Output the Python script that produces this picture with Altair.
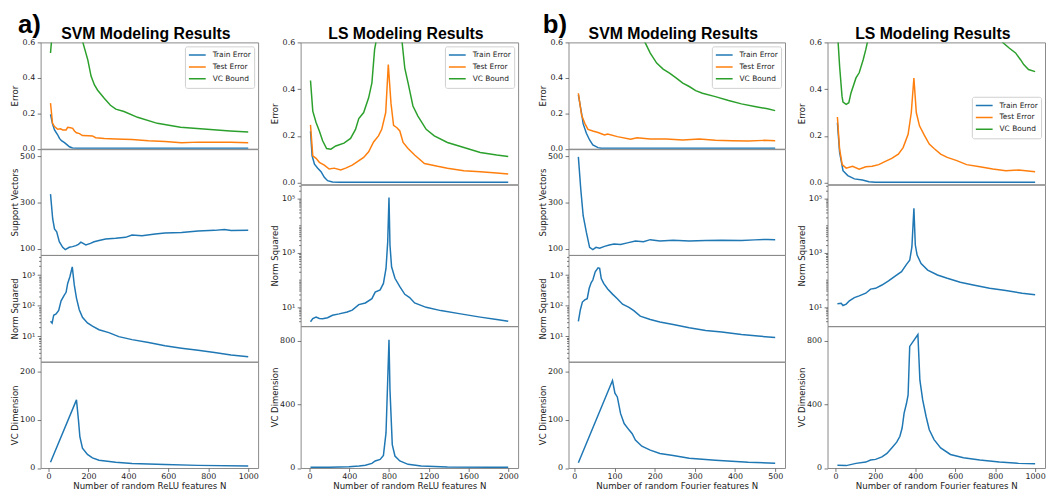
import altair as alt
import pandas as pd

# ---------------- data ----------------
# (a) SVM, random ReLU features
svm_relu_train_N = [10, 20, 30, 45, 55, 65, 80, 95, 105, 120, 150, 200, 400, 600, 800, 1000]
svm_relu_train = [0.194, 0.14, 0.106, 0.08, 0.058, 0.045, 0.034, 0.02, 0.011, 0.004, 0.002, 0.002, 0.002, 0.002, 0.002, 0.002]
svm_relu_test_N = [10, 20, 30, 46, 60, 71, 88, 96, 110, 121, 130, 140, 155, 170, 200, 220, 236, 280, 336, 418, 500, 583, 666, 749, 830, 914, 1000]
svm_relu_test = [0.257, 0.145, 0.125, 0.11, 0.112, 0.106, 0.106, 0.121, 0.118, 0.115, 0.1, 0.09, 0.085, 0.074, 0.073, 0.072, 0.062, 0.058, 0.055, 0.052, 0.045, 0.04, 0.034, 0.037, 0.036, 0.036, 0.034]
svm_relu_vc_N = [10, 16, 30, 60, 100, 140, 172, 197, 213, 230, 246, 279, 310, 337, 378, 446, 545, 661, 777, 909, 1000]
svm_relu_vc = [0.54, 0.62, 0.9, 1.4, 1.6, 0.95, 0.6, 0.5, 0.41, 0.36, 0.33, 0.285, 0.245, 0.223, 0.21, 0.177, 0.143, 0.121, 0.111, 0.1, 0.094]
svm_relu_sv_N = [10, 21, 30, 41, 54, 71, 84, 104, 120, 137, 150, 162, 187, 210, 228, 253, 286, 336, 386, 418, 468, 534, 583, 666, 749, 831, 881, 914, 1000]
svm_relu_sv = [336, 229, 186, 174, 131, 107, 97, 107, 110, 114, 120, 129, 117, 124, 131, 136, 143, 146, 150, 160, 157, 164, 169, 171, 177, 180, 184, 179, 181]
svm_relu_norm_N = [10, 18, 26, 38, 51, 63, 79, 88, 96, 107, 119, 129, 140, 154, 170, 195, 220, 253, 302, 352, 418, 501, 583, 666, 749, 831, 914, 1000]
svm_relu_norm = [30.9, 26.9, 49, 53.7, 70.8, 144.5, 224, 275, 537, 891, 1862, 479, 178, 74, 41.7, 27.5, 21.4, 16.4, 13.2, 9.8, 7.8, 6.3, 4.9, 4.1, 3.5, 2.95, 2.45, 2.14]
svm_relu_vcd_N = [10, 140, 150, 157, 170, 195, 220, 253, 336, 418, 583, 749, 1000]
svm_relu_vcd = [12, 141, 99, 65, 41, 28, 21, 16, 12, 9.5, 7, 5.4, 4]

# (a) LS, random ReLU features
ls_relu_train_N = [10, 26, 50, 83, 116, 149, 182, 231, 300, 600, 1000, 1500, 2000]
ls_relu_train = [0.22, 0.115, 0.079, 0.062, 0.047, 0.023, 0.0085, 0.003, 0.002, 0.002, 0.002, 0.002, 0.002]
ls_relu_test_N = [10, 33, 66, 99, 149, 198, 248, 314, 364, 430, 479, 545, 595, 645, 694, 727, 767, 793, 820, 846, 880, 909, 942, 992, 1058, 1157, 1289, 1388, 1554, 1719, 1884, 2000]
ls_relu_test = [0.247, 0.115, 0.104, 0.087, 0.075, 0.058, 0.062, 0.054, 0.062, 0.075, 0.089, 0.108, 0.132, 0.174, 0.2, 0.228, 0.3, 0.505, 0.34, 0.245, 0.235, 0.221, 0.172, 0.146, 0.118, 0.082, 0.07, 0.062, 0.051, 0.047, 0.041, 0.037]
ls_relu_vc_N = [10, 33, 66, 99, 132, 172, 215, 264, 347, 413, 463, 496, 545, 595, 628, 655, 668, 700, 800, 900, 932, 959, 992, 1041, 1091, 1174, 1256, 1388, 1554, 1719, 1884, 2000]
ls_relu_vc = [0.437, 0.306, 0.257, 0.221, 0.179, 0.146, 0.143, 0.157, 0.169, 0.189, 0.228, 0.274, 0.3, 0.363, 0.427, 0.569, 0.6, 0.9, 2.0, 0.9, 0.6, 0.49, 0.427, 0.328, 0.285, 0.228, 0.2, 0.172, 0.15, 0.129, 0.118, 0.112]
ls_relu_norm_N = [10, 33, 66, 99, 132, 182, 231, 298, 380, 430, 496, 562, 628, 661, 711, 744, 770, 787, 800, 810, 826, 860, 909, 959, 1008, 1058, 1174, 1322, 1521, 1719, 1884, 2000]
ls_relu_norm = [2.95, 3.89, 4.37, 3.89, 3.8, 4.17, 5.13, 5.75, 6.76, 7.94, 12.6, 14.5, 20.9, 36.3, 43.7, 75.9, 269, 2512, 109648, 1905, 309, 117, 57.5, 30.2, 22.9, 14.5, 10, 7.59, 5.75, 4.37, 3.55, 3.09]
ls_relu_vcd_N = [10, 200, 397, 500, 562, 628, 661, 711, 744, 770, 787, 800, 810, 833, 860, 909, 992, 1124, 1388, 2000]
ls_relu_vcd = [4, 5, 8, 12, 17, 29, 44, 54, 79, 220, 551, 804, 489, 147, 75, 44, 23, 12, 6, 4]

# (b) SVM, random Fourier features
svm_four_train_N = [10, 18, 22, 30, 38, 46, 59, 67, 100, 200, 300, 400, 500]
svm_four_train = [0.304, 0.2, 0.14, 0.087, 0.049, 0.021, 0.006, 0.002, 0.002, 0.002, 0.002, 0.002, 0.002]
svm_four_test_N = [10, 18, 26, 34, 46, 59, 75, 83, 107, 140, 156, 189, 229, 270, 311, 351, 392, 433, 473, 500]
svm_four_test = [0.313, 0.19, 0.143, 0.109, 0.1, 0.091, 0.077, 0.083, 0.068, 0.053, 0.062, 0.055, 0.055, 0.049, 0.055, 0.047, 0.045, 0.043, 0.047, 0.045]
svm_four_vc_N = [10, 40, 80, 120, 160, 176, 189, 205, 221, 237, 254, 270, 286, 302, 319, 351, 384, 416, 449, 481, 500]
svm_four_vc = [3.5, 2.0, 1.2, 0.85, 0.68, 0.6, 0.54, 0.483, 0.449, 0.426, 0.398, 0.37, 0.351, 0.328, 0.313, 0.294, 0.272, 0.253, 0.238, 0.225, 0.215]
svm_four_sv_N = [10, 16, 22, 30, 38, 46, 54, 63, 75, 87, 99, 115, 132, 152, 172, 189, 213, 246, 286, 327, 367, 416, 449, 481, 500]
svm_four_sv = [497, 357, 243, 171, 107, 97, 107, 103, 111, 117, 121, 119, 126, 134, 131, 140, 134, 137, 134, 136, 137, 136, 139, 141, 140]
svm_four_norm_N = [10, 15, 20, 26, 32, 37, 42, 46, 52, 59, 63, 67, 73, 83, 95, 107, 120, 136, 148, 164, 189, 213, 246, 286, 327, 367, 416, 457, 500]
svm_four_norm = [30.9, 74.1, 131.8, 154.9, 169.8, 371.5, 575.4, 691.8, 1288, 1738, 1660, 776, 537, 355, 240, 170, 112, 89, 69, 45.7, 35.5, 29.5, 24.5, 19.1, 15.5, 13.8, 11.5, 10.2, 9.1]
svm_four_vcd_N = [10, 95, 101, 107, 115, 124, 136, 144, 152, 168, 189, 213, 246, 286, 351, 433, 500]
svm_four_vcd = [11, 181, 155, 147, 113, 92, 79, 71, 58, 45, 37, 30, 26, 20, 16, 12, 10]

# (b) LS, random Fourier features
ls_four_train_N = [10, 21, 38, 62, 95, 135, 168, 200, 400, 600, 800, 1000]
ls_four_train = [0.257, 0.129, 0.051, 0.03, 0.016, 0.011, 0.004, 0.002, 0.002, 0.002, 0.002, 0.002]
ls_four_test_N = [10, 21, 34, 54, 86, 119, 152, 184, 217, 250, 282, 315, 339, 364, 380, 393, 405, 421, 445, 470, 494, 527, 560, 608, 657, 723, 788, 853, 918, 1000]
ls_four_test = [0.281, 0.143, 0.077, 0.062, 0.07, 0.058, 0.068, 0.07, 0.077, 0.091, 0.104, 0.122, 0.15, 0.207, 0.3, 0.448, 0.3, 0.243, 0.203, 0.165, 0.146, 0.122, 0.108, 0.094, 0.077, 0.068, 0.058, 0.051, 0.054, 0.047]
ls_four_vc_N = [10, 21, 33, 38, 54, 67, 78, 103, 119, 139, 152, 160, 250, 400, 600, 837, 870, 902, 927, 943, 967, 1000]
ls_four_vc = [0.65, 0.498, 0.37, 0.345, 0.335, 0.342, 0.384, 0.448, 0.47, 0.526, 0.569, 0.6, 1.2, 3.0, 1.2, 0.6, 0.576, 0.555, 0.526, 0.505, 0.484, 0.475]
ls_four_norm_N = [10, 29, 38, 54, 70, 95, 119, 152, 176, 201, 233, 266, 299, 331, 356, 372, 383, 393, 400, 409, 429, 462, 511, 560, 625, 690, 772, 853, 935, 1000]
ls_four_norm = [13.5, 14.1, 11.7, 13.2, 17.4, 22.9, 26.3, 33.1, 46.8, 50.1, 66.1, 93.3, 141, 204, 380, 537, 1660, 43650, 1995, 832, 407, 234, 155, 117, 83.2, 66.1, 50.1, 41.7, 33.1, 28.8]
ls_four_vcd_N = [10, 54, 103, 152, 176, 201, 233, 258, 282, 307, 323, 334, 344, 356, 364, 372, 413, 423, 437, 454, 470, 494, 527, 576, 641, 723, 821, 918, 1000]
ls_four_vcd = [17, 15, 29, 37, 50, 54, 70, 91, 126, 162, 199, 251, 344, 406, 458, 763, 837, 551, 427, 323, 240, 178, 126, 85, 64, 50, 37, 29, 27]

series_names = ["Train Error", "Test Error", "VC Bound"]
series_colors = ["#1f77b4", "#ff7f0e", "#2ca02c"]

err_ticks = [0.0, 0.2, 0.4, 0.6]
sv_ticks = [100, 300, 500]
vcd_small_ticks = [0, 100, 200]
vcd_large_ticks = [0, 400, 800]
norm_small_ticks = [10, 100, 1000]
norm_small_labels = ["10¹", "10²", "10³"]
norm_large_ticks = [10, 1000, 100000]
norm_large_labels = ["10¹", "10³", "10⁵"]
relu_x_ticks = [0, 200, 400, 600, 800, 1000]
relu2_x_ticks = [0, 400, 800, 1200, 1600, 2000]
four_x_ticks = [0, 100, 200, 300, 400, 500]
four2_x_ticks = [0, 200, 400, 600, 800, 1000]

# ---------------- styling ----------------
FONT = "DejaVu Sans"
TFONT = "Liberation Sans"
FRAME = "#8a8a8a"
TXT = "#222222"
TICK = "#555555"
LW = 1.5


def yaxis(title, values, fmt=None, label_expr=None, major=None):
    kw = dict(
        title=title, values=values, domain=False, grid=False,
        tickColor=TICK, tickWidth=0.8, tickSize=3.5,
        labelFont=FONT, labelFontSize=8, labelColor=TXT, labelPadding=2.5,
        labelOverlap=False,
        titleFont=FONT, titleFontSize=8.6, titleFontWeight="normal", titleColor=TXT,
        titlePadding=1, minExtent=20, maxExtent=20,
    )
    if fmt:
        kw["format"] = fmt
    if label_expr:
        kw["labelExpr"] = label_expr
    if major is not None:
        test = " || ".join("datum.value == %s" % m for m in major)
        kw["tickSize"] = {"condition": {"test": test, "value": 3.5}, "value": 2}
    return alt.Axis(**kw)


def xaxis(title, values):
    return alt.Axis(
        title=title, values=values, format="d", domain=False, grid=False,
        tickColor=TICK, tickWidth=0.8, tickSize=3.5,
        labelFont=FONT, labelFontSize=8, labelColor=TXT, labelPadding=1.5,
        labelFlush=False, labelOverlap=False,
        titleFont=FONT, titleFontSize=8.7, titleFontWeight="normal", titleColor=TXT,
        titlePadding=1,
    )


def xenc(xdom, axis=None):
    return alt.X("N:Q", scale=alt.Scale(domain=xdom, nice=False, zero=False), axis=axis)


def legend_params(**extra):
    kw = dict(
        title=None, symbolType="stroke", symbolSize=289, symbolStrokeWidth=1.5,
        labelFont=FONT, labelFontSize=7.5, labelColor=TXT, labelOffset=6,
        clipHeight=11.7, rowPadding=0, padding=3,
        fillColor="rgba(255,255,255,0.85)", strokeColor="#cfcfcf", cornerRadius=2,
    )
    kw.update(extra)
    return alt.Legend(**kw)


def text_layer(txt, x, y, size, align):
    return alt.Chart(pd.DataFrame({"t": [txt]})).mark_text(
        font=TFONT, fontSize=size, fontWeight="bold", align=align,
        baseline="alphabetic", color="black",
    ).encode(x=alt.value(x), y=alt.value(y), text="t:N")


def err_panel(Ntr, tr, Nte, te, Nvc, vc, xdom, ydom, w, h, title, legend, tag=None, tag_dx=0):
    df = pd.DataFrame({
        "N": list(Ntr) + list(Nte) + list(Nvc),
        "val": list(tr) + list(te) + list(vc),
        "series": ["Train Error"] * len(Ntr) + ["Test Error"] * len(Nte) + ["VC Bound"] * len(Nvc),
        "ord": [0] * len(Ntr) + [1] * len(Nte) + [2] * len(Nvc),
    })
    lines = alt.Chart(df).mark_line(strokeWidth=LW, clip=True).encode(
        x=xenc(xdom),
        y=alt.Y("val:Q", scale=alt.Scale(domain=ydom, nice=False, zero=False),
                axis=yaxis("Error", err_ticks, fmt=".1f")),
        color=alt.Color("series:N", scale=alt.Scale(domain=series_names, range=series_colors),
                        legend=legend, sort=series_names),
        detail="ord:O",
    )
    layers = [lines, text_layer(title, w / 2 - 3.5, -3.5, 16, "center")]
    if tag:
        layers.append(text_layer(tag, tag_dx, -10, 26, "left"))
    return alt.layer(*layers).properties(width=w, height=h)


def single_panel(Ns, vals, xdom, ydom, w, h, ytitle, yvals, fmt=None, log=False,
                 label_expr=None, major=None, xtitle=None, xticks=None):
    df = pd.DataFrame({"N": Ns, "val": vals})
    if log:
        sc = alt.Scale(type="log", domain=ydom, nice=False)
    else:
        sc = alt.Scale(domain=ydom, nice=False, zero=False)
    xa = xaxis(xtitle, xticks) if xtitle else None
    return alt.Chart(df).mark_line(strokeWidth=LW, clip=True, color=series_colors[0]).encode(
        x=xenc(xdom, xa),
        y=alt.Y("val:Q", scale=sc, axis=yaxis(ytitle, yvals, fmt=fmt, label_expr=label_expr, major=major)),
    ).properties(width=w, height=h)


def log_ticks(lo, hi):
    out = []
    for k in range(-1, 7):
        for s in range(1, 10):
            v = s * 10 ** k
            if lo <= v <= hi:
                out.append(float(v))
    return out


def label_expr_for(majors, labels):
    parts = []
    for m, l in zip(majors, labels):
        parts.append("datum.value == %s ? '%s'" % (m, l))
    return " : ".join(parts) + " : ''"


def indep(ch):
    return ch.resolve_scale(color="independent").resolve_legend(color="independent")


# column geometry
W1, W2, W3, W4 = 220, 220, 219, 220
H4 = [107.5, 107, 108, 107.5]
H3 = [143.5, 143, 143.5]

X1 = [-39.5, 1049.5]
X2 = [-89.5, 2099.5]
X3 = [-14.5, 524.5]
X4 = [-39.5, 1049.5]

ERR_A = [0, 0.6]
ERR_B = [-0.007, 0.6]
SV_DOM = [74, 530]
VCD_S = [0, 220]
VCD_L = [0, 890]
NORM_S = [1.48, 4570]
NORM_L = [2.04, 320000]

ns_vals = log_ticks(*NORM_S)
nl_vals = log_ticks(*NORM_L)
ns_expr = label_expr_for(norm_small_ticks, norm_small_labels)
nl_expr = label_expr_for(norm_large_ticks, norm_large_labels)

top_legend = dict(orient="top-right", offset=4)

# ---- column 1 : SVM ReLU
c1 = indep(alt.vconcat(
    err_panel(svm_relu_train_N, svm_relu_train, svm_relu_test_N, svm_relu_test,
              svm_relu_vc_N, svm_relu_vc, X1, ERR_A, W1, H4[0], "SVM Modeling Results",
              legend_params(**top_legend), tag="a)", tag_dx=-23),
    single_panel(svm_relu_sv_N, svm_relu_sv, X1, SV_DOM, W1, H4[1], "Support Vectors", sv_ticks, fmt="d"),
    single_panel(svm_relu_norm_N, svm_relu_norm, X1, NORM_S, W1, H4[2], "Norm Squared", ns_vals,
                 log=True, label_expr=ns_expr, major=norm_small_ticks),
    single_panel(svm_relu_vcd_N, svm_relu_vcd, X1, VCD_S, W1, H4[3], "VC Dimension", vcd_small_ticks, fmt="d",
                 xtitle="Number of random ReLU features N", xticks=relu_x_ticks),
    spacing=0, bounds="flush",
))

# ---- column 2 : LS ReLU
c2 = indep(alt.vconcat(
    err_panel(ls_relu_train_N, ls_relu_train, ls_relu_test_N, ls_relu_test,
              ls_relu_vc_N, ls_relu_vc, X2, ERR_B, W2, H3[0], "LS Modeling Results",
              legend_params(**top_legend)),
    single_panel(ls_relu_norm_N, ls_relu_norm, X2, NORM_L, W2, H3[1], "Norm Squared", nl_vals,
                 log=True, label_expr=nl_expr, major=norm_large_ticks),
    single_panel(ls_relu_vcd_N, ls_relu_vcd, X2, VCD_L, W2, H3[2], "VC Dimension", vcd_large_ticks, fmt="d",
                 xtitle="Number of random ReLU features N", xticks=relu2_x_ticks),
    spacing=0, bounds="flush",
))

# ---- column 3 : SVM Fourier
c3 = indep(alt.vconcat(
    err_panel(svm_four_train_N, svm_four_train, svm_four_test_N, svm_four_test,
              svm_four_vc_N, svm_four_vc, X3, ERR_A, W3, H4[0], "SVM Modeling Results",
              legend_params(**top_legend), tag="b)", tag_dx=-26),
    single_panel(svm_four_sv_N, svm_four_sv, X3, SV_DOM, W3, H4[1], "Support Vectors", sv_ticks, fmt="d"),
    single_panel(svm_four_norm_N, svm_four_norm, X3, NORM_S, W3, H4[2], "Norm Squared", ns_vals,
                 log=True, label_expr=ns_expr, major=norm_small_ticks),
    single_panel(svm_four_vcd_N, svm_four_vcd, X3, VCD_S, W3, H4[3], "VC Dimension", vcd_small_ticks, fmt="d",
                 xtitle="Number of random Fourier features N", xticks=four_x_ticks),
    spacing=0, bounds="flush",
))

# ---- column 4 : LS Fourier
c4 = indep(alt.vconcat(
    err_panel(ls_four_train_N, ls_four_train, ls_four_test_N, ls_four_test,
              ls_four_vc_N, ls_four_vc, X4, ERR_B, W4, H3[0], "LS Modeling Results",
              legend_params(orient="none", legendX=146, legendY=55)),
    single_panel(ls_four_norm_N, ls_four_norm, X4, NORM_L, W4, H3[1], "Norm Squared", nl_vals,
                 log=True, label_expr=nl_expr, major=norm_large_ticks),
    single_panel(ls_four_vcd_N, ls_four_vcd, X4, VCD_L, W4, H3[2], "VC Dimension", vcd_large_ticks, fmt="d",
                 xtitle="Number of random Fourier features N", xticks=four2_x_ticks),
    spacing=0, bounds="flush",
))

group_a = indep(alt.hconcat(c1, c2, spacing=11))
group_b = indep(alt.hconcat(c3, c4, spacing=11))

chart = indep(alt.hconcat(group_a, group_b, spacing=19)).properties(
    padding={"left": 2, "top": 0, "right": 0, "bottom": 0},
    background="white",
).configure_view(stroke=FRAME, strokeWidth=1)

chart.save("out.html", embed_options={"renderer": "svg", "actions": False})
